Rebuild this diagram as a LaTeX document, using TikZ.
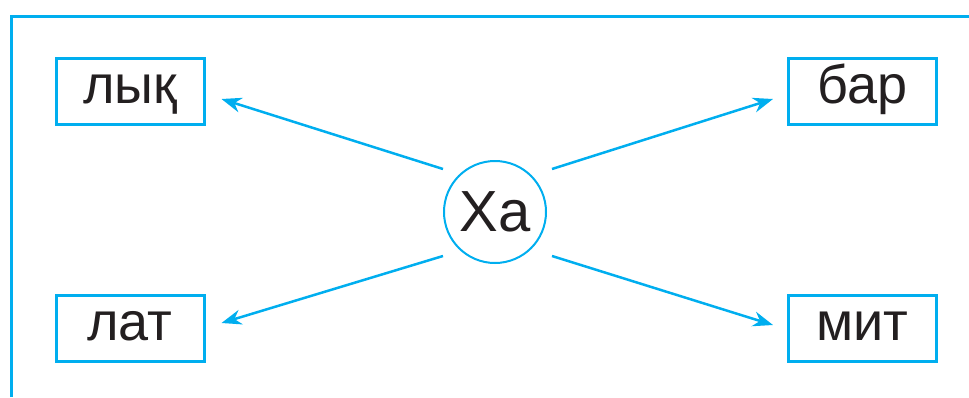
\documentclass[tikz,border=0pt]{standalone}
\usepackage{fontspec}
\setmainfont{Liberation Sans}
\usepackage{tikz}
\usetikzlibrary{arrows.meta, positioning}
\definecolor{mycyan}{RGB}{0,174,239}
\definecolor{mydark}{RGB}{35,31,32}
\tikzset{
  wordbox/.style={rectangle, draw=mycyan, line width=3pt,
    minimum width=148pt, minimum height=66pt, inner sep=0pt,
    text height=35pt, text depth=12pt, text=mydark,
    font=\fontsize{54}{60}\selectfont},
  hub/.style={circle, draw=mycyan, line width=2pt,
    minimum size=102pt, inner sep=0pt, text=mydark,
    text height=40pt, text depth=2pt,
    font=\fontsize{58}{64}\selectfont},
  arrow/.style={-{Stealth[length=20pt, width=15pt]}, line width=2.5pt, color=mycyan},
  frame/.style={draw=mycyan, line width=3pt}
}
\begin{document}
\begin{tikzpicture}[x=1pt, y=-1pt]
  % Page size
  \useasboundingbox (0,0) rectangle (969,397);

  % Frame
  \draw[frame] (11,397) |- (969,16);

  % Centre and words
  \node[hub] (xa) at (495,212) {Xa};
  \node[wordbox] (lyk) at (130,91.5) {лық};
  \node[wordbox] (bar) at (862.5,91.5) {бар};
  \node[wordbox] (lat) at (130,328.5) {лат};
  \node[wordbox] (mit) at (862.5,328.5) {мит};

  % Arrows
  \draw[arrow] ([shift={(-52,-43)}]xa.center) -- ([shift={(16,7.5)}]lyk.east);
  \draw[arrow] ([shift={(57,-43)}]xa.center) -- ([shift={(-14,7.5)}]bar.west);
  \draw[arrow] ([shift={(-52,44)}]xa.center) -- ([shift={(16,-5.5)}]lat.east);
  \draw[arrow] ([shift={(57,44)}]xa.center) -- ([shift={(-14,-3.5)}]mit.west);
\end{tikzpicture}
\end{document}
